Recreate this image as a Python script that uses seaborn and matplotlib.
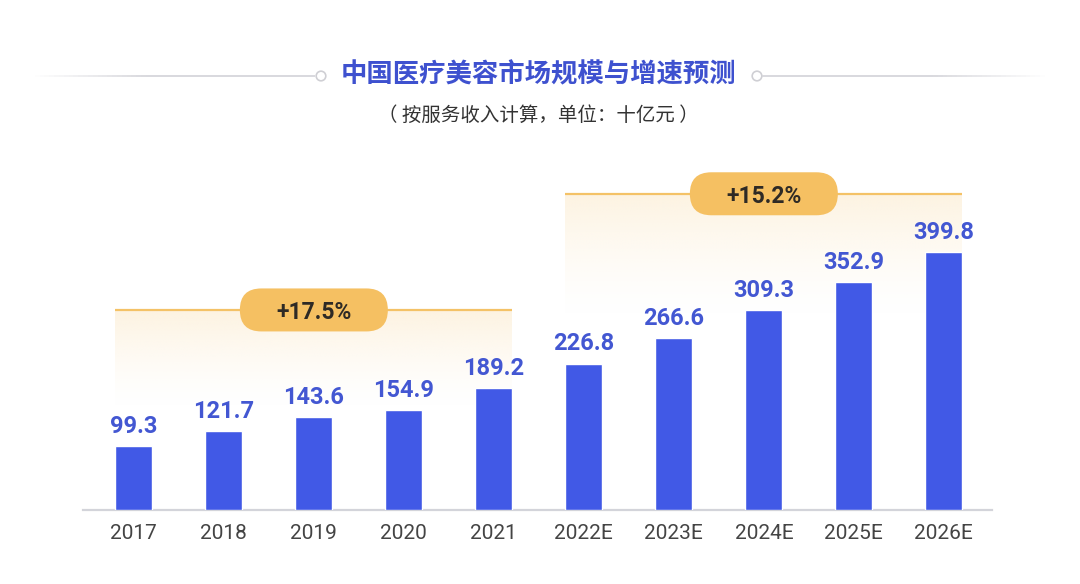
import numpy as np
import pandas as pd
import matplotlib
matplotlib.use("Agg")
import matplotlib.pyplot as plt
import seaborn as sns
from matplotlib.patches import FancyBboxPatch, Circle
from matplotlib.transforms import ScaledTranslation
from matplotlib.collections import LineCollection

# ---- data ----
years = ["2017", "2018", "2019", "2020", "2021", "2022E", "2023E", "2024E", "2025E", "2026E"]
values = [99.3, 121.7, 143.6, 154.9, 189.2, 226.8, 266.6, 309.3, 352.9, 399.8]
cagr_labels = ["+17.5%", "+15.2%"]
cagr_groups = [(0, 4), (5, 9)]
title = "中国医疗美容市场规模与增速预测"
subtitle = "（ 按服务收入计算，单位：十亿元 ）"

sns.set_theme(style="white")
plt.rcParams['font.family'] = ['Roboto', 'Noto Sans CJK SC', 'DejaVu Sans']

BAR = "#4159E6"
LABEL = "#4357D2"
GOLD = "#F4C267"
PILL = "#F5C062"

fig = plt.figure(figsize=(10.8, 5.84), dpi=100)
fig.patch.set_facecolor("white")
ax = fig.add_axes([83 / 1080, 74 / 584, 909 / 1080, 361.4 / 584])

df = pd.DataFrame({"year": years, "value": values})
sns.barplot(data=df, x="year", y="value", order=years, color=BAR, width=0.41,
            saturation=1, ax=ax, zorder=3)

XL = (-0.565, 9.535)
YL = (0, 560)
ax.set_xlim(*XL)
ax.set_ylim(*YL)

# value labels
for i, v in enumerate(values):
    ax.annotate(f"{v:.1f}", (i, v), xytext=(0, 6), textcoords="offset points",
                ha="center", va="bottom", fontsize=17, fontweight="bold",
                color=LABEL, zorder=5)

# CAGR bands
band_levels = [310, 490]
for (g0, g1), lab, lvl in zip(cagr_groups, cagr_labels, band_levels):
    x0, x1 = g0 - 0.205, g1 + 0.205
    depth = 150 if g0 == 0 else 190
    n = 256
    alpha = np.linspace(0, 1, n)[:, None] ** 1.4 * 0.85
    img = np.zeros((n, 2, 4))
    img[..., 0] = 0xFD / 255
    img[..., 1] = 0xF1 / 255
    img[..., 2] = 0xDC / 255
    img[..., 3] = alpha
    ax.imshow(img, extent=[x0, x1, lvl - depth, lvl], aspect="auto",
              origin="lower", zorder=1, interpolation="bilinear")
    ax.plot([x0, x1], [lvl, lvl], color=GOLD, lw=1.6, zorder=2,
            solid_capstyle="butt")
    xc = (g0 + g1) / 2
    t = fig.dpi_scale_trans + ScaledTranslation(xc, lvl, ax.transData)
    pill = FancyBboxPatch((-0.74, -0.215), 1.48, 0.43,
                          boxstyle="round,pad=0,rounding_size=0.215",
                          transform=t, facecolor=PILL, edgecolor="none",
                          zorder=4, clip_on=False)
    ax.add_patch(pill)
    ax.text(xc, lvl, lab, ha="center", va="center_baseline", fontsize=16.5,
            fontweight="bold", color="#2E2A25", zorder=5)

ax.set_xlim(*XL)
ax.set_ylim(*YL)

# axes styling
for s in ["top", "right", "left"]:
    ax.spines[s].set_visible(False)
ax.spines["bottom"].set_color("#D3D4DA")
ax.spines["bottom"].set_linewidth(1.6)
ax.set_yticks([])
ax.set_xlabel("")
ax.set_ylabel("")
ax.tick_params(axis="x", length=0, pad=10, labelsize=15, labelcolor="#444444")
ax.grid(False)

# header
fig.text(538 / 1080, 1 - 75 / 584, title, ha="center", va="center",
         fontsize=19, fontweight="bold", color="#3E51CF",
         family=['Noto Sans CJK SC', 'DejaVu Sans'])
fig.text(538 / 1080, 1 - 115 / 584, subtitle, ha="center", va="center",
         fontsize=14, color="#333333",
         family=['Noto Sans CJK SC', 'DejaVu Sans'])

# decorative lines with circles
yy = 1 - 76 / 584
def grad_line(xa, xb, fade_left):
    xs = np.linspace(xa, xb, 60)
    segs = [[(xs[k] / 1080, yy), (xs[k + 1] / 1080, yy)] for k in range(59)]
    a = np.linspace(0, 1, 59)
    if not fade_left:
        a = a[::-1]
    a = np.clip(a * 2.5, 0, 1)
    cols = [(0.84, 0.84, 0.86, float(al)) for al in a]
    lc = LineCollection(segs, colors=cols, linewidths=1.3,
                        transform=fig.transFigure)
    fig.add_artist(lc)

grad_line(30, 315, True)
grad_line(762, 1050, False)
for cx in (321, 757):
    t = fig.dpi_scale_trans + ScaledTranslation(cx / 1080, yy, fig.transFigure)
    c = Circle((0, 0), radius=0.048, transform=t,
               facecolor="white", edgecolor="#CFCFD4", lw=1.2)
    fig.add_artist(c)

fig.savefig("out.png", dpi=100, facecolor="white")
